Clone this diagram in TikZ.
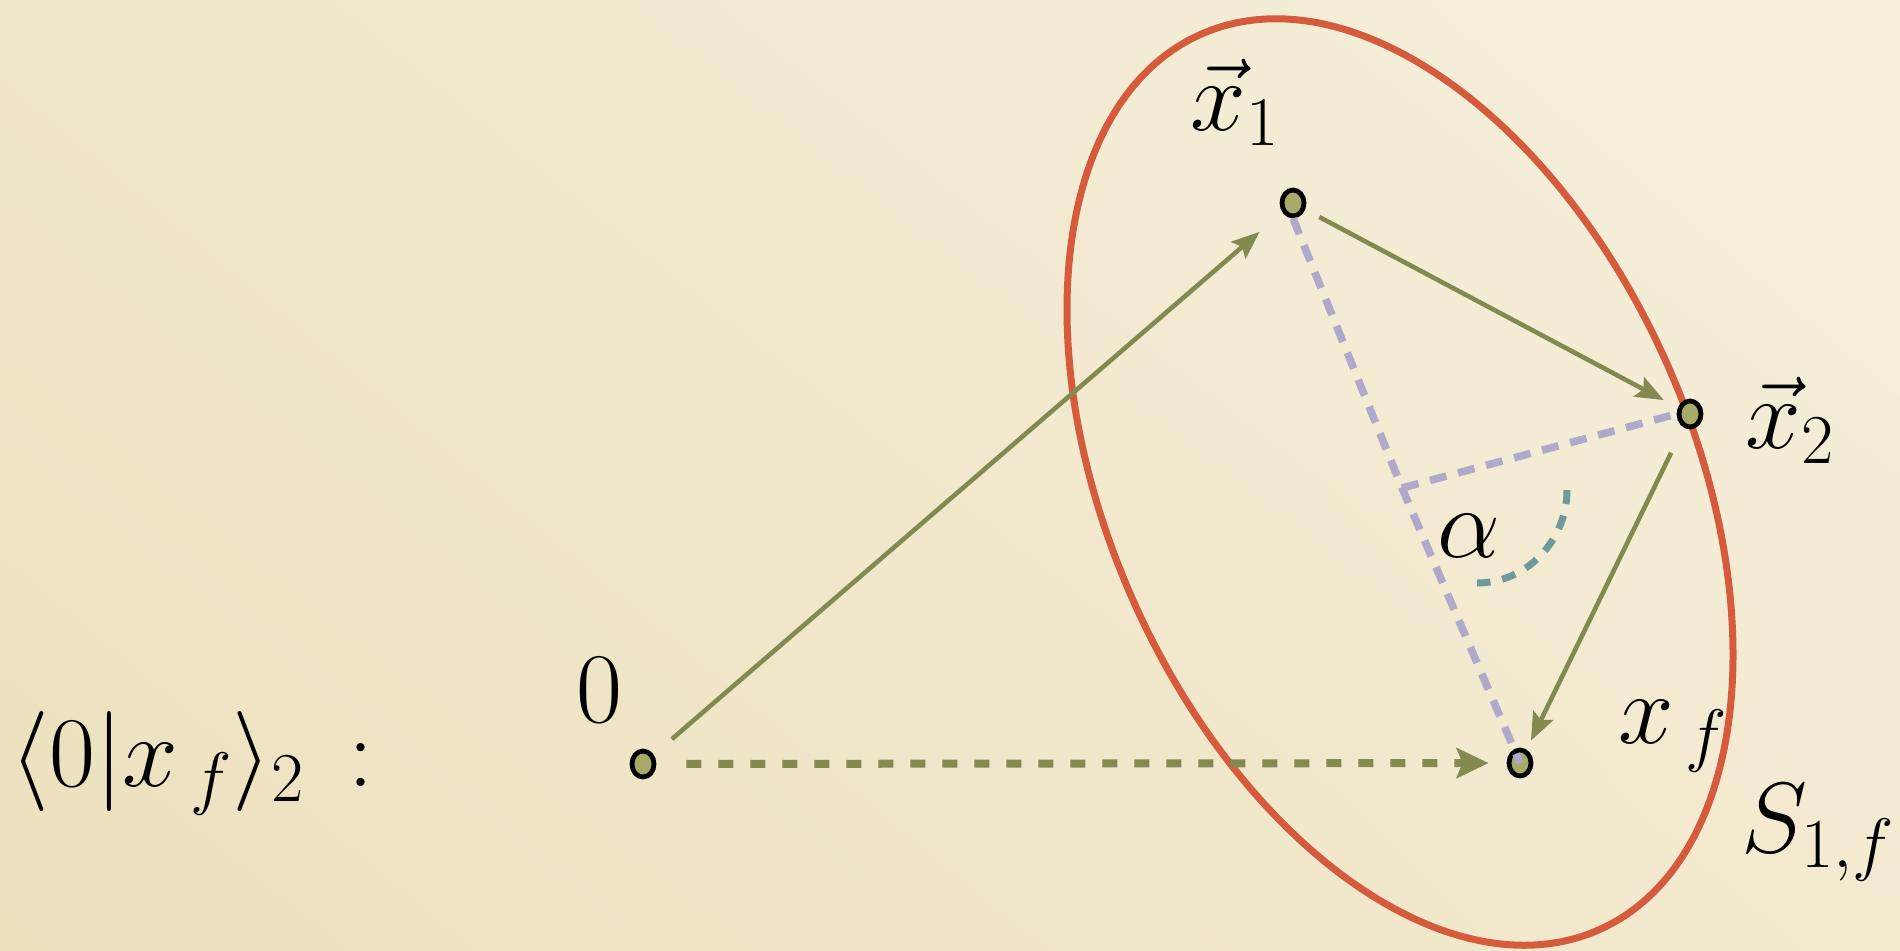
\RequirePackage{fix-cm}
\documentclass[tikz,border=0pt]{standalone}
\usetikzlibrary{arrows.meta,shapes.geometric,shadings}
\definecolor{bgUL}{HTML}{F0E6C9}
\definecolor{bgUR}{HTML}{F6F0DD}
\definecolor{bgLL}{HTML}{ECE0BD}
\definecolor{bgLR}{HTML}{F3EAD0}
\definecolor{olivec}{HTML}{838A4F}
\definecolor{dotfill}{HTML}{A8AA68}
\definecolor{redc}{HTML}{D65A3C}
\definecolor{lavc}{HTML}{B0A9CB}
\definecolor{tealc}{HTML}{6E9A9C}
\begin{document}
\begin{tikzpicture}[x=0.5pt,y=-0.5pt,
  dot/.style={ellipse,draw=black,line width=2.4pt,fill=dotfill,minimum width=11pt,minimum height=13pt,inner sep=0pt},
  vecarrow/.style={draw=olivec,line width=2.3pt,-{Stealth[length=14pt,width=11pt,inset=2.5pt]}},
  dvecarrow/.style={draw=olivec,line width=4pt,dash pattern=on 7.5pt off 8.5pt,-{Stealth[length=16pt,width=15pt,inset=3pt]}},
  perp/.style={draw=lavc,line width=3.8pt,dash pattern=on 8.5pt off 6pt},
  lbl/.style={inner sep=0pt,font=\fontsize{50}{60}\selectfont}]
\useasboundingbox (0,0) rectangle (1900,950);
\shade[upper left=bgUL,upper right=bgUR,lower left=bgLL,lower right=bgLR] (0,0) rectangle (1900,950);

% surface ellipse
\draw[redc,line width=3.5pt,rotate around={24:(1400,482)}] (1400,482) ellipse [x radius=292, y radius=490];

% points
\node[dot] (O)  at (643,764) {};
\node[dot] (X1) at (1293,203) {};
\node[dot] (X2) at (1690,414) {};
\node[dot] (XF) at (1520,763) {};
\coordinate (V) at (1402,488);

% perpendicular construction
\draw[perp] (X1.south) -- (V) -- (XF.center);
\draw[perp] (V) -- (X2.west);
\draw[tealc,line width=3.5pt,dash pattern=on 7pt off 6pt] (1567,490) .. controls (1567,540) and (1527,583) .. (1477,583);

% vectors
\draw[vecarrow,shorten <=12pt,shorten >=15pt] (O) -- (X1);
\draw[vecarrow,shorten <=8pt,shorten >=8pt] (X1) -- (X2);
\draw[vecarrow,shorten <=14pt,shorten >=5pt] (X2) -- (XF);
\draw[dvecarrow,shorten <=15pt,shorten >=9pt] (O) -- (XF);

% labels
\node[lbl] (lO)  at (599,690) {$0$};
\node[lbl] (lX1) at (1235,102) {$\vec{x}_1$};
\node[lbl] (lX2) at (1790,420) {$\vec{x}_2$};
\node[lbl] (lXF) at (1673,736) {$x_{\,f}$};
\node[lbl] (lS)  at (1818,833) {$S_{1,f}$};
\node[lbl] (lA)  at (1469,536) {$\alpha$};
\node[lbl,anchor=west] (lB) at (10,763) {$\langle 0|x_{\,f}\rangle_2\, :$};
\end{tikzpicture}
\end{document}
